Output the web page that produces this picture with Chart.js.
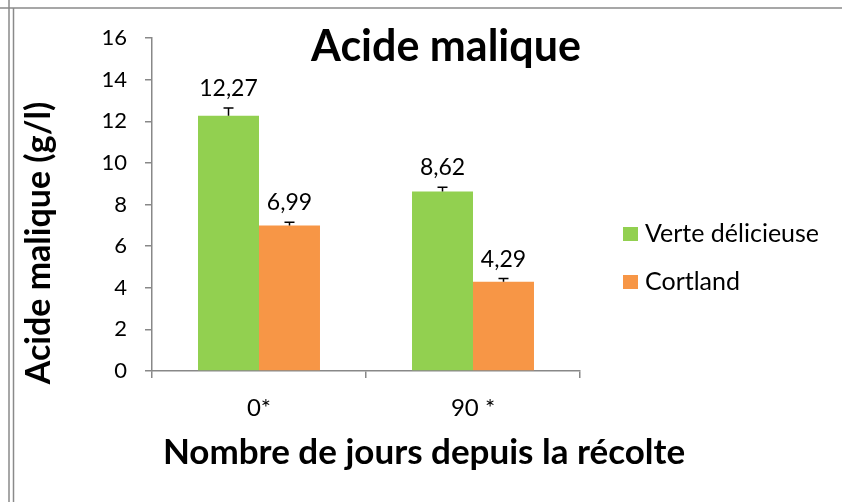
<!DOCTYPE html>
<html><head><meta charset="utf-8">
<script src="https://cdn.jsdelivr.net/npm/chart.js@4.4.1/dist/chart.umd.min.js"></script>
<style>html,body{margin:0;padding:0;background:#fff;}#wrap{width:842px;height:502px;position:relative;}</style>
</head><body><div id="wrap"><canvas id="c" width="842" height="502"></canvas></div>
<script>
const categories = ["0*", "90 *"];
const seriesNames = ["Verte délicieuse", "Cortland"];
const verte = [12.27, 8.62];
const cortland = [6.99, 4.29];
const verteErr = [0.37, 0.21];
const cortlandErr = [0.16, 0.15];
const yTicks = [0, 2, 4, 6, 8, 10, 12, 14, 16];
const titleText = "Acide malique";
const yTitle = "Acide malique (g/l)";
const xTitle = "Nombre de jours depuis la récolte";
const colors = ["#92D050", "#F79646"];
const FONT = "Lato, 'Open Sans', sans-serif";

const errs = [verteErr, cortlandErr];

const decor = {
  id: 'decor',
  beforeDraw(chart) {
    const ctx = chart.ctx;
    ctx.save();
    ctx.fillStyle = '#fff';
    ctx.fillRect(0, 0, chart.width, chart.height);
    ctx.strokeStyle = '#8a8a8a';
    ctx.lineWidth = 1.5;
    ctx.beginPath();
    ctx.moveTo(0, 8); ctx.lineTo(842, 8);
    ctx.moveTo(9, 0); ctx.lineTo(9, 502);
    ctx.moveTo(13.5, 8); ctx.lineTo(13.5, 502);
    ctx.stroke();
    ctx.restore();
  },
  afterDatasetsDraw(chart) {
    const ctx = chart.ctx;
    const ys = chart.scales.y;
    ctx.save();
    chart.data.datasets.forEach((ds, di) => {
      const meta = chart.getDatasetMeta(di);
      meta.data.forEach((bar, i) => {
        const v = ds.data[i];
        const top = ys.getPixelForValue(v + errs[di][i]);
        ctx.strokeStyle = '#000';
        ctx.lineWidth = 1.5;
        ctx.beginPath();
        ctx.moveTo(bar.x, bar.y);
        ctx.lineTo(bar.x, top);
        ctx.moveTo(bar.x - 5, top);
        ctx.lineTo(bar.x + 5, top);
        ctx.stroke();
        ctx.fillStyle = '#000';
        ctx.font = "23px " + FONT;
        ctx.textAlign = 'center';
        ctx.textBaseline = 'bottom';
        ctx.fillText(v.toFixed(2).replace('.', ','), bar.x, top - 8);
      });
    });
    ctx.fillStyle = '#000';
    ctx.textAlign = 'center';
    ctx.textBaseline = 'alphabetic';
    ctx.font = "bold 43px " + FONT;
    ctx.fillText(titleText, 446, 61);
    ctx.font = "bold 35px " + FONT;
    ctx.fillText(xTitle, 424, 464);
    ctx.save();
    ctx.translate(50, 243);
    ctx.rotate(-Math.PI / 2);
    ctx.font = "bold 34px " + FONT;
    ctx.fillText(yTitle, 0, 0);
    ctx.restore();
    ctx.font = "25px " + FONT;
    ctx.textAlign = 'left';
    ctx.textBaseline = 'middle';
    const ly = [234, 282];
    seriesNames.forEach((n, k) => {
      ctx.fillStyle = colors[k];
      ctx.fillRect(623, ly[k] - 7, 15, 14);
      ctx.fillStyle = '#000';
      ctx.fillText(n, 645, ly[k]);
    });
    ctx.restore();
  }
};

new Chart(document.getElementById('c'), {
  type: 'bar',
  data: {
    labels: categories,
    datasets: [
      { label: seriesNames[0], data: verte, backgroundColor: colors[0], borderWidth: 0 },
      { label: seriesNames[1], data: cortland, backgroundColor: colors[1], borderWidth: 0 }
    ]
  },
  options: {
    responsive: false,
    animation: false,
    devicePixelRatio: 1,
    layout: { padding: { left: 0, right: 262, top: 38, bottom: 0 } },
    plugins: { legend: { display: false }, title: { display: false }, tooltip: { enabled: false } },
    datasets: { bar: { barPercentage: 1, categoryPercentage: 0.57 } },
    scales: {
      x: {
        grid: { display: true, offset: true, drawOnChartArea: false, drawTicks: true, tickLength: 7, color: '#888', lineWidth: 1.5 },
        border: { color: '#888', width: 1.5 },
        ticks: { color: '#000', font: { size: 24, family: FONT }, padding: 16, maxRotation: 0 },
        afterFit(s) { s.height = 131; }
      },
      y: {
        min: 0, max: 16,
        afterBuildTicks(s) { s.ticks = yTicks.map(v => ({ value: v })); },
        grid: { display: true, drawOnChartArea: false, drawTicks: true, tickLength: 7, color: '#888', lineWidth: 1.5 },
        border: { color: '#888', width: 1.5 },
        ticks: { color: '#000', font: { size: 22, family: FONT }, padding: 18 },
        afterFit(s) { s.width = 152; }
      }
    }
  },
  plugins: [decor]
});
</script></body></html>
